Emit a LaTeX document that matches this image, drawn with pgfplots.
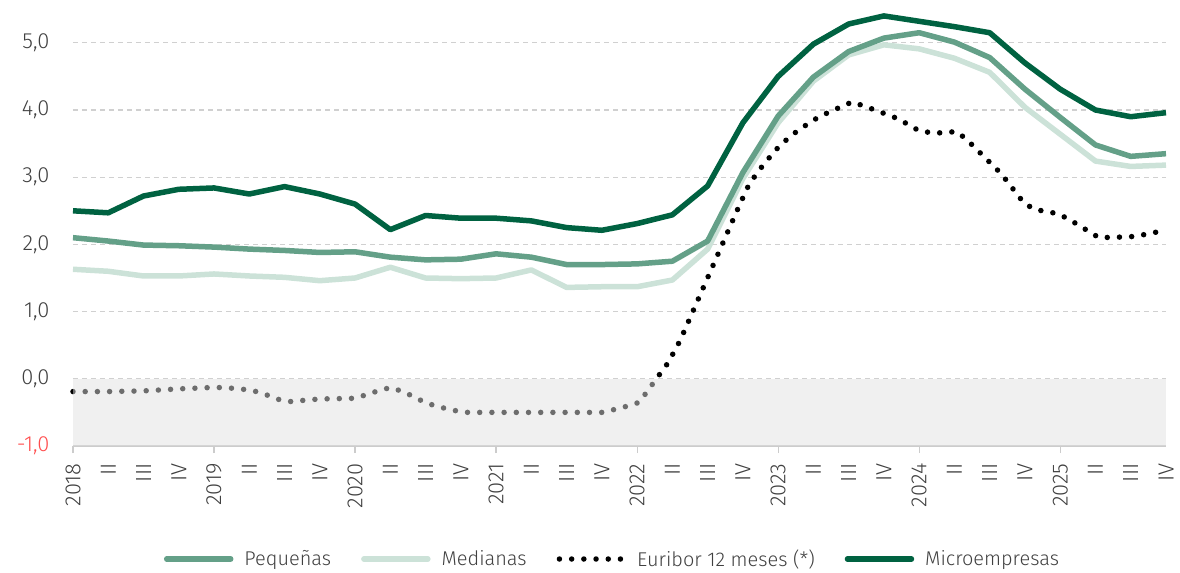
\documentclass[border=0pt]{standalone}
\usepackage{fontspec}
\setmainfont{Fira Sans Light}
\usepackage{pgfplots}
\usepackage{pgfplotstable}
\pgfplotsset{compat=1.18}
\definecolor{micro}{HTML}{006241}
\definecolor{pequ}{HTML}{64A088}
\definecolor{medi}{HTML}{CCE2D8}
\definecolor{gridgray}{HTML}{D0D0D0}
\definecolor{axisgray}{HTML}{CCCCCC}
\definecolor{labelgray}{HTML}{404040}
\definecolor{negred}{HTML}{FF4D4D}
\definecolor{overlaycol}{HTML}{E0E0E0}

\pgfplotstableread{
idx pe me mi
0 2.10 1.63 2.50
1 2.05 1.60 2.47
2 1.99 1.53 2.72
3 1.98 1.53 2.82
4 1.96 1.56 2.84
5 1.93 1.53 2.75
6 1.91 1.51 2.86
7 1.88 1.46 2.75
8 1.89 1.50 2.60
9 1.81 1.66 2.22
10 1.77 1.50 2.43
11 1.78 1.49 2.39
12 1.86 1.50 2.39
13 1.81 1.62 2.35
14 1.70 1.36 2.25
15 1.70 1.37 2.21
16 1.71 1.37 2.31
17 1.75 1.47 2.44
18 2.05 1.93 2.87
19 3.07 2.98 3.81
20 3.91 3.81 4.50
21 4.49 4.43 4.98
22 4.87 4.82 5.28
23 5.07 4.97 5.40
24 5.15 4.91 5.32
25 5.01 4.77 5.24
26 4.78 4.56 5.15
27 4.31 4.04 4.70
28 3.89 3.64 4.31
29 3.48 3.24 4.00
30 3.31 3.16 3.90
31 3.35 3.18 3.96
}\quarterly

\pgfplotstableread{
x y
0 -0.19
1 -0.19
2 -0.18
3 -0.15
3.9 -0.13
4.3 -0.13
4.9 -0.16
5.2 -0.19
5.55 -0.25
5.9 -0.32
6.2 -0.34
6.55 -0.32
7 -0.30
8 -0.29
8.3 -0.24
8.65 -0.18
9 -0.13
9.3 -0.18
9.6 -0.25
9.9 -0.33
10.2 -0.39
10.55 -0.44
10.9 -0.48
11.2 -0.50
15.05 -0.50
15.4 -0.45
15.7 -0.41
16.06 -0.35
16.88 0.24
17.22 0.57
18.89 2.57
19.18 2.90
19.6 3.20
20.06 3.48
20.57 3.70
21.16 3.90
21.79 4.05
22.1 4.12
22.75 4.00
23.4 3.87
24.0 3.69
24.37 3.66
24.68 3.66
25.05 3.68
25.33 3.57
26.33 3.05
26.95 2.63
27.23 2.53
27.57 2.49
27.91 2.46
28.23 2.38
29.1 2.10
29.79 2.11
30.16 2.12
30.5 2.16
31 2.21
}\euribor

\begin{document}
\begin{tikzpicture}
\begin{axis}[
  name=ax,
  scale only axis,
  width=1093bp, height=436.8bp,
  xmin=0, xmax=31, ymin=-1, ymax=5.5,
  clip=false,
  axis x line*=bottom, axis y line*=left,
  y axis line style={draw=none},
  x axis line style={draw=axisgray, line width=1.2bp},
  ytick={-1,0,1,2,3,4,5},
  yticklabels={{\textcolor{negred}{-1,0}},{0,0},{1,0},{2,0},{3,0},{4,0},{5,0}},
  ymajorgrids,
  grid style={draw=gridgray, line width=1.2bp, dash pattern=on 5bp off 4bp},
  xtick={0,...,31},
  xticklabels={2018,II,III,IV,2019,II,III,IV,2020,II,III,IV,2021,II,III,IV,2022,II,III,IV,2023,II,III,IV,2024,II,III,IV,2025,II,III,IV},
  major tick length=0pt,
  tick align=outside,
  extra x ticks={0,4,8,12,16,20,24,28},
  extra x tick labels={},
  extra x tick style={major tick length=7bp, tick style={draw=axisgray, line width=1.2bp}, grid=none},
  tick label style={font=\fontsize{22}{26}\selectfont, text=labelgray},
  xticklabel style={rotate=90, anchor=east, xshift=-14bp},
  yticklabel style={anchor=east, xshift=-20bp},
  legend columns=4,
  legend cell align=left,
  legend style={at={(0.5,0)}, anchor=center, yshift=-113bp, xshift=-7bp, draw=none, fill=none,
    font=\fontsize{20}{24}\selectfont, text=labelgray, inner sep=0pt,
    /tikz/every odd column/.append style={column sep=9bp},
    /tikz/every even column/.append style={column sep=28bp}},
  legend image code/.code={\draw[#1, line cap=round] (0bp,0bp) -- (64bp,0bp);},
]
\addlegendimage{pequ, line width=5.5bp}
\addlegendentry{Pequeñas}
\addlegendimage{medi, line width=5.5bp}
\addlegendentry{Medianas}
\addlegendimage{black, line width=5.5bp, dash pattern=on 0bp off 12.2bp}
\addlegendentry{Euribor 12 meses (*)}
\addlegendimage{micro, line width=5.5bp}
\addlegendentry{Microempresas}

\addplot[forget plot, medi, line width=5.5bp, line join=round] table[x=idx, y=me] {\quarterly};
\addplot[forget plot, pequ, line width=5.5bp, line join=round] table[x=idx, y=pe] {\quarterly};
\addplot[forget plot, micro, line width=5.5bp, line join=round] table[x=idx, y=mi] {\quarterly};
\addplot[forget plot, black, line width=5.5bp, line cap=round, dash pattern=on 0bp off 12.2bp] table[x=x, y=y] {\euribor};

\fill[overlaycol, fill opacity=0.49] (axis cs:0,-1) rectangle (axis cs:31,0);
\draw[gridgray, line width=1.2bp, dash pattern=on 5bp off 4bp] (axis cs:0,0) -- (axis cs:31,0);
\end{axis}
\pgfresetboundingbox
\path[use as bounding box] ([xshift=-73bp,yshift=-127bp]ax.south west) rectangle ([xshift=1107bp,yshift=446bp]ax.south west);
\end{tikzpicture}
\end{document}
